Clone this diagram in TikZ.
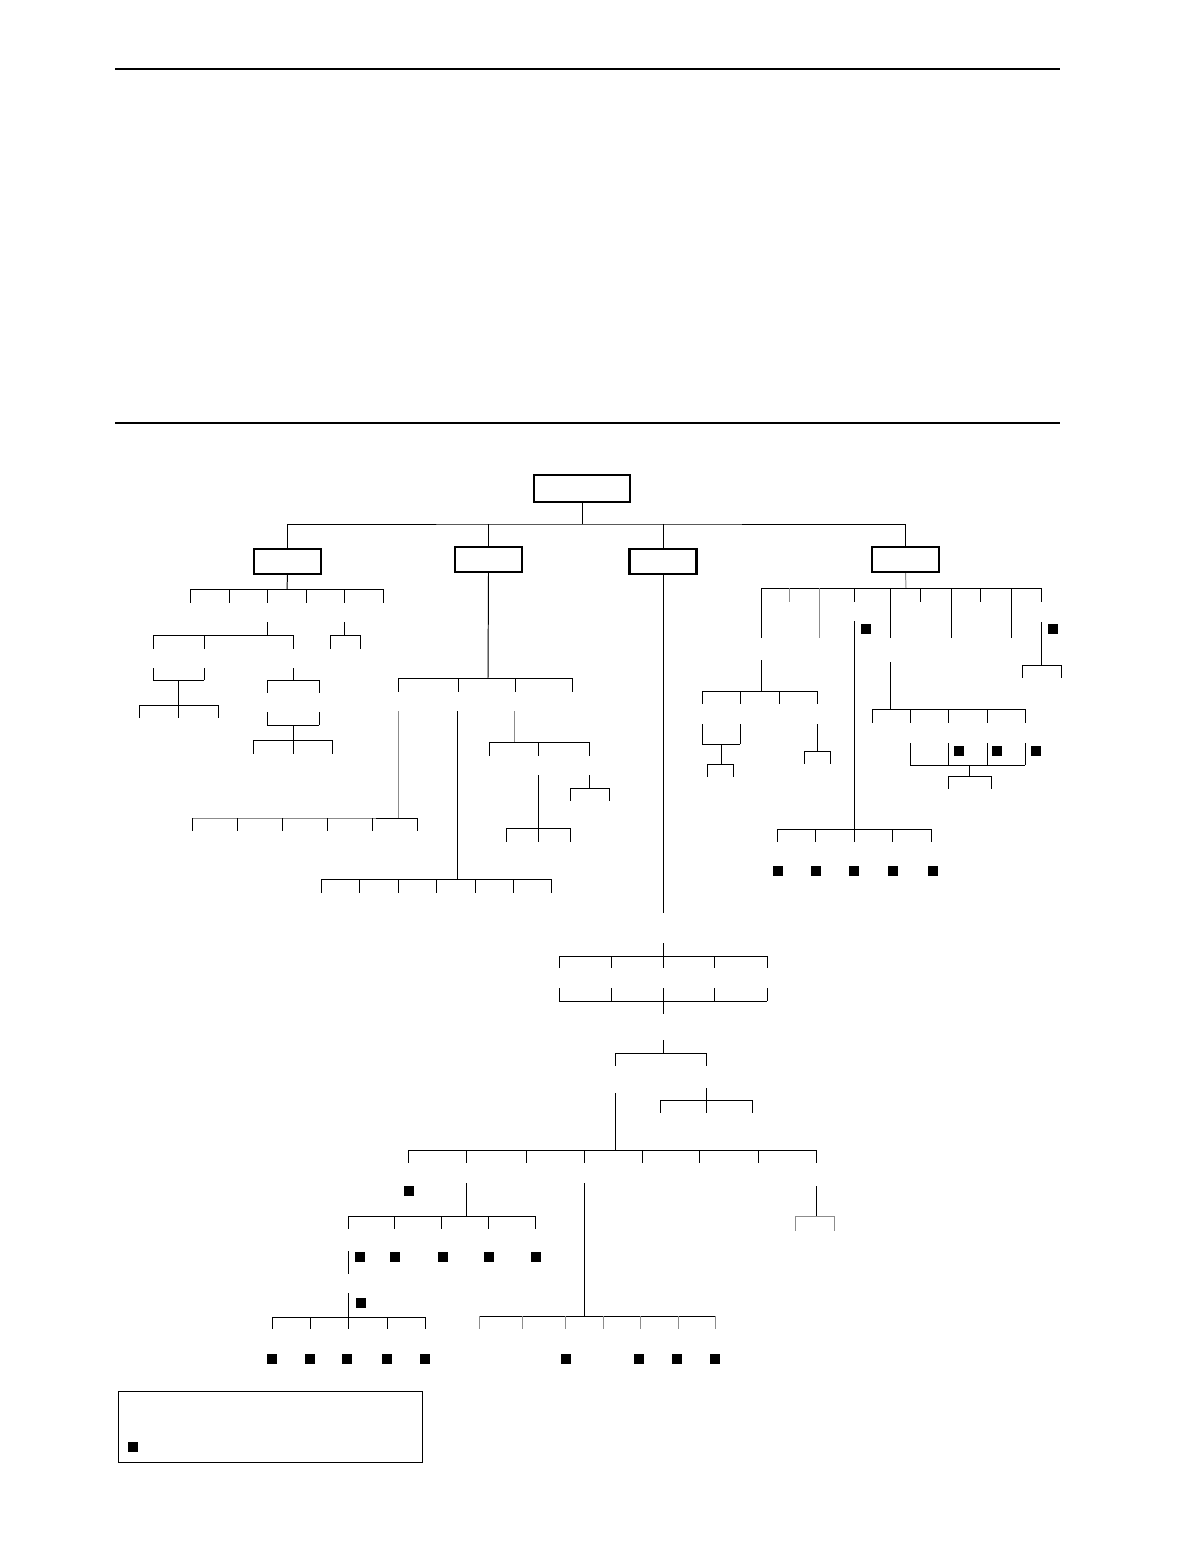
\documentclass[tikz,border=0pt]{standalone}
\usetikzlibrary{positioning}
\begin{document}
\begin{tikzpicture}[
    x=0.51pt, y=-0.51pt, % one unit is one pixel of the page, y grows downwards
    line width=0.5pt,
    rule/.style={line width=1pt},
    box/.style={rectangle, draw, line width=1.2pt, minimum width=34pt, minimum height=12.6pt, inner sep=0pt},
    rootbox/.style={box, minimum width=48.8pt, minimum height=13.6pt},
    faint/.style={draw=black!45},
    blk/.style={rectangle, fill=black, minimum size=5.1pt, inner sep=0pt}
]
    \useasboundingbox (0,0) rectangle (1198,1560);

    % page rules
    \draw[rule] (115,69) -- (1060,69);
    \draw[rule] (115,423) -- (1060,423);

    % boxes
    \node[rootbox] (root) at (582,488.5) {};
    \node[box] (grpA) at (287.5,561.5) {};
    \node[box] (grpB) at (488.5,559.5) {};
    \node[box] (grpC) at (663,561.5) {};
    \node[box] (grpD) at (905.5,559.5) {};

    % first level
    \draw (root.south) -- (582,524) coordinate (bus0);
    \draw (grpA.north) |- (bus0) -| (grpD.north);
    \draw (grpB.north) -- (grpB.north |- bus0);
    \draw (grpC.north) -- (grpC.north |- bus0);

    % branch A
    \draw (grpA.south) -- (287,589);
    \draw (190,589) -- (383,589);
    \foreach \x in {190,229,267,306,344,383} \draw (\x,589) -- (\x,603);
    \draw (267,622) -- (267,635);
    \draw (153,635) -- (293,635);
    \foreach \x in {153,204,293} \draw (\x,635) -- (\x,649);
    \draw (344,622) -- (344,635);
    \draw (330,635) -- (360,635);
    \foreach \x in {330,360} \draw (\x,635) -- (\x,649);
    \foreach \x in {153,204} \draw (\x,668) -- (\x,680);
    \draw (153,680) -- (204,680);
    \draw (178,680) -- (178,705);
    \draw (139,705) -- (218,705);
    \foreach \x in {139,178,218} \draw (\x,705) -- (\x,718);
    \draw (293,668) -- (293,680);
    \draw (267,680) -- (319,680);
    \foreach \x in {267,319} \draw (\x,680) -- (\x,693);
    \foreach \x in {267,319} \draw (\x,712) -- (\x,725);
    \draw (267,725) -- (319,725);
    \draw (293,725) -- (293,740);
    \draw (253,740) -- (332,740);
    \foreach \x in {253,293,332} \draw (\x,740) -- (\x,754);

    % branch B
    \draw (grpB.south) -- (488,678);
    \draw (398,678) -- (572,678);
    \foreach \x in {398,458,515,572} \draw (\x,678) -- (\x,692);
    \draw[faint] (398,711) -- (398,818);
    \draw[faint] (192,818) -- (376,818);
    \draw (376,818) -- (417,818);
    \foreach \x in {192,237,282,327,372,417} \draw (\x,818) -- (\x,831);
    \draw (457,711) -- (457,879);
    \draw (321,879) -- (551,879);
    \foreach \x in {321,359,398,436,475,513,551} \draw (\x,879) -- (\x,893);
    \draw[faint] (514,711) -- (514,742);
    \draw (489,742) -- (589,742);
    \foreach \x in {489,538,589} \draw (\x,742) -- (\x,756);
    \draw (538,775) -- (538,828);
    \draw (506,828) -- (570,828);
    \foreach \x in {506,538,570} \draw (\x,828) -- (\x,842);
    \draw (589,775) -- (589,788);
    \draw (570,788) -- (609,788);
    \foreach \x in {570,609} \draw (\x,788) -- (\x,801);

    % branch C
    \draw (grpC.south) -- (663,913);
    \draw (663,943) -- (663,956);
    \draw (559,956) -- (767,956);
    \foreach \x in {559,611,663,714,767} \draw (\x,956) -- (\x,968);
    \foreach \x in {559,611,663,714,767} \draw (\x,988) -- (\x,1001);
    \draw (559,1001) -- (767,1001);
    \draw (663,1001) -- (663,1014);
    \draw (663,1040) -- (663,1053);
    \draw (615,1053) -- (706,1053);
    \foreach \x in {615,706} \draw (\x,1053) -- (\x,1066);
    \draw (706,1088) -- (706,1113);
    \draw (660,1100) -- (752,1100);
    \foreach \x in {660,752} \draw (\x,1100) -- (\x,1113);
    \draw (615,1093) -- (615,1150);
    \draw (408,1150) -- (816,1150);
    \foreach \x in {408,466,526,584,642,699,758,816} \draw (\x,1150) -- (\x,1163);
    \node[blk] (c1) at (409,1191) {};
    \draw (466,1183) -- (466,1216);
    \draw (348,1216) -- (535,1216);
    \foreach \x in {348,394,441,488,535} \draw (\x,1216) -- (\x,1229);
    \foreach \x [count=\i] in {360,394.5,442.5,488.5,535.5} \node[blk] (c2-\i) at (\x,1257) {};
    \draw (348,1251) -- (348,1274);
    \draw (348,1293) -- (348,1317);
    \node[blk] (c3) at (360.5,1302.5) {};
    \draw (272,1317) -- (425,1317);
    \foreach \x in {272,310,348,387,425} \draw (\x,1317) -- (\x,1329);
    \foreach \x [count=\i] in {272.3,310,347.3,387.3,425.3} \node[blk] (c4-\i) at (\x,1359) {};
    \draw (584,1183) -- (584,1316);
    \draw (479,1316) -- (715,1316);
    \foreach \x in {479,522,565,603,640,678,715} \draw[faint] (\x,1316) -- (\x,1329);
    \foreach \x [count=\i] in {566,639.3,677.3,715.3} \node[blk] (c5-\i) at (\x,1358.5) {};
    \draw (816,1186) -- (816,1216);
    \draw[faint] (795,1216) -- (834,1216);
    \foreach \x in {795,834} \draw[faint] (\x,1216) -- (\x,1231);

    % branch D
    \draw[faint] (grpD.south) -- (906,588);
    \draw (761,588) -- (1041,588);
    \foreach \x in {761,890,951,1011} \draw (\x,588) -- (\x,638);
    \draw[faint] (819,588) -- (819,638);
    \foreach \x in {854,920,980,1041} \draw (\x,588) -- (\x,602);
    \draw[faint] (789,588) -- (789,602);
    \node[blk] (d1) at (866,629) {};
    \node[blk] (d2) at (1053,629) {};
    \draw (854,621) -- (854,829);
    \draw (777,829) -- (931,829);
    \foreach \x in {777,815,854,892,931} \draw (\x,829) -- (\x,842);
    \foreach \x [count=\i] in {778,815.5,853.5,893,932.5} \node[blk] (d3-\i) at (\x,870.5) {};
    \draw (1041,622) -- (1041,665);
    \draw (1022,665) -- (1061,665);
    \foreach \x in {1022,1061} \draw (\x,665) -- (\x,678);
    \draw (761,660) -- (761,691);
    \draw (702,691) -- (817,691);
    \foreach \x in {702,740,779,817} \draw (\x,691) -- (\x,704);
    \foreach \x in {702,740} \draw (\x,724) -- (\x,744);
    \draw (702,744) -- (740,744);
    \draw (721,744) -- (721,764);
    \draw (707,764) -- (733,764);
    \foreach \x in {707,733} \draw (\x,764) -- (\x,777);
    \draw (817,724) -- (817,751);
    \draw (804,751) -- (830,751);
    \foreach \x in {804,830} \draw (\x,751) -- (\x,764);
    \draw (890,662) -- (890,709);
    \draw (872,709) -- (1025,709);
    \foreach \x in {872,910,948,987,1025} \draw (\x,709) -- (\x,723);
    \foreach \x in {910,948,987,1025} \draw (\x,743) -- (\x,765);
    \draw (910,765) -- (1025,765);
    \foreach \x [count=\i] in {958.5,996.5,1035.5} \node[blk] (d4-\i) at (\x,751) {};
    \draw (969,765) -- (969,776);
    \draw (948,776) -- (991,776);
    \foreach \x in {948,991} \draw (\x,776) -- (\x,789);

    % legend
    \draw (118,1391) rectangle (422,1462);
    \node[blk] (key) at (132.7,1447) {};
\end{tikzpicture}
\end{document}
